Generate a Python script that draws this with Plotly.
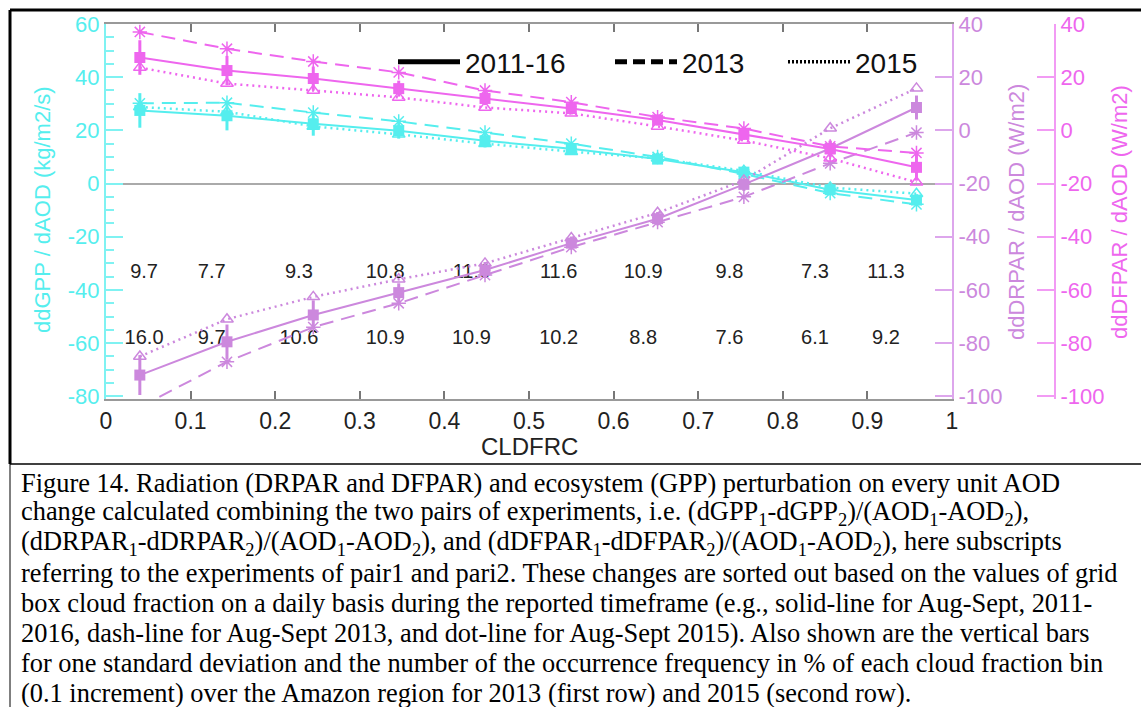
import plotly.graph_objects as go

W, H = 1141, 707


def px(x):
    return x / W


def py(y):
    return 1 - y / H


# ---------------- data ----------------
cldfrc = [0.04, 0.143, 0.245, 0.346, 0.448, 0.55, 0.652, 0.754, 0.856, 0.958]

gpp_all = [27.5, 25.5, 22.5, 19.9, 16.1, 13.1, 9.2, 4.3, -2.3, -6.2]
gpp_all_err = [6.5, 5.5, 4.5, 3.0, 2.5, 2.0, 1.8, 1.5, 1.8, 2.2]
gpp_2013 = [30.2, 30.4, 26.7, 23.4, 19.2, 15.0, 10.0, 3.6, -3.6, -7.8]
gpp_2015 = [28.8, 27.0, 21.5, 18.5, 15.0, 12.0, 9.5, 4.8, -1.5, -3.8]

drpar_all = [-92.0, -79.5, -69.4, -61.0, -52.5, -42.4, -33.2, -20.3, -6.8, 8.6]
drpar_all_err = [7.5, 6.5, 5.5, 3.5, 3.0, 2.5, 2.5, 2.5, 3.0, 4.5]
drpar_2013 = [-104.0, -87.0, -74.0, -65.0, -54.4, -43.9, -34.5, -25.0, -12.4, -0.8]
drpar_2015 = [-85.0, -71.0, -62.6, -56.0, -50.0, -40.5, -31.0, -18.8, 0.8, 15.8]

dfpar_all = [27.4, 22.5, 19.5, 15.7, 12.0, 8.2, 3.9, -1.5, -7.0, -13.9]
dfpar_all_err = [6.5, 5.5, 4.5, 3.0, 2.5, 2.2, 2.0, 2.0, 3.0, 5.0]
dfpar_2013 = [37.0, 30.7, 25.9, 21.8, 15.0, 10.6, 5.0, 0.7, -6.0, -8.5]
dfpar_2015 = [23.6, 17.6, 15.0, 12.4, 8.6, 6.4, 1.5, -3.8, -10.5, -19.5]

freq_label_x = [0.045, 0.125, 0.228, 0.33, 0.432, 0.535, 0.635, 0.737, 0.838, 0.922]
freq_2013 = ["9.7", "7.7", "9.3", "10.8", "11.6", "11.6", "10.9", "9.8", "7.3", "11.3"]
freq_2015 = ["16.0", "9.7", "10.6", "10.9", "10.9", "10.2", "8.8", "7.6", "6.1", "9.2"]

x_ticks = [0, 0.1, 0.2, 0.3, 0.4, 0.5, 0.6, 0.7, 0.8, 0.9, 1]
x_tick_text = ["0", "0.1", "0.2", "0.3", "0.4", "0.5", "0.6", "0.7", "0.8", "0.9", "1"]
gpp_ticks = [-80, -60, -40, -20, 0, 20, 40, 60]
gpp_tick_text = ["-80", "-60", "-40", "-20", "0", "20", "40", "60"]
par_ticks = [-100, -80, -60, -40, -20, 0, 20, 40]
par_tick_text = ["-100", "-80", "-60", "-40", "-20", "0", "20", "40"]
periods = ["2011-16", "2013", "2015"]

caption_lines = [
    "Figure 14. Radiation (DRPAR and DFPAR) and ecosystem (GPP) perturbation on every unit AOD",
    "change calculated combining the two pairs of experiments, i.e. (dGPP<sub>1</sub>-dGPP<sub>2</sub>)/(AOD<sub>1</sub>-AOD<sub>2</sub>),",
    "(dDRPAR<sub>1</sub>-dDRPAR<sub>2</sub>)/(AOD<sub>1</sub>-AOD<sub>2</sub>), and (dDFPAR<sub>1</sub>-dDFPAR<sub>2</sub>)/(AOD<sub>1</sub>-AOD<sub>2</sub>), here subscripts",
    "referring to the experiments of pair1 and pari2. These changes are sorted out based on the values of grid",
    "box cloud fraction on a daily basis during the reported timeframe (e.g., solid-line for Aug-Sept, 2011-",
    "2016, dash-line for Aug-Sept 2013, and dot-line for Aug-Sept 2015). Also shown are the vertical bars",
    "for one standard deviation and the number of the occurrence frequency in % of each cloud fraction bin",
    "(0.1 increment) over the Amazon region for 2013 (first row) and 2015 (second row).",
]

# ---------------- styles ----------------
C_GPP = "#55EEEE"
C_GPP_AX = "#7FF2F2"
C_DR = "#CC88DD"
C_DR_AX = "#DDA6EC"
C_DF = "#EE66EE"
C_DF_AX = "#F29BF4"
SANS = "Liberation Sans"
SERIF = "Liberation Serif"
DASH = "14px,8px"
DOT = "2px,4px"

fig = go.Figure()


def add_group(yvals, err, y13, y15, color, axis):
    fig.add_trace(go.Scatter(
        x=cldfrc, y=y13, yaxis=axis, mode="lines+markers", showlegend=False,
        line=dict(color=color, width=2, dash=DASH),
        marker=dict(symbol="asterisk-open", size=12, line=dict(color=color, width=1.5)),
    ))
    fig.add_trace(go.Scatter(
        x=cldfrc, y=y15, yaxis=axis, mode="lines+markers", showlegend=False,
        line=dict(color=color, width=2.5, dash=DOT),
        marker=dict(symbol="triangle-up-open", size=11, line=dict(color=color, width=1.5)),
    ))
    fig.add_trace(go.Scatter(
        x=cldfrc, y=yvals, yaxis=axis, mode="lines+markers", showlegend=False,
        line=dict(color=color, width=2),
        marker=dict(symbol="square", size=11, color=color),
        error_y=dict(type="data", array=err, visible=True, color=color, thickness=3, width=0),
    ))


add_group(gpp_all, gpp_all_err, gpp_2013, gpp_2015, C_GPP, "y")
add_group(drpar_all, drpar_all_err, drpar_2013, drpar_2015, C_DR, "y2")
add_group(dfpar_all, dfpar_all_err, dfpar_2013, dfpar_2015, C_DF, "y3")

# occurrence frequency rows
ROW1_Y, ROW2_Y = -33.5, -58.5
fig.add_trace(go.Scatter(
    x=freq_label_x, y=[ROW1_Y] * len(freq_2013), text=freq_2013, mode="text",
    textfont=dict(family=SANS, size=20, color="#222"), showlegend=False, yaxis="y",
))
fig.add_trace(go.Scatter(
    x=freq_label_x, y=[ROW2_Y] * len(freq_2015), text=freq_2015, mode="text",
    textfont=dict(family=SANS, size=20, color="#222"), showlegend=False, yaxis="y",
))

# legend entries (three separate legends)
legend_dashes = ["solid", "12px,6px", "2px,2px"]
legend_widths = [5, 5, 3.5]
legend_names = ["legend", "legend2", "legend3"]
for name, dash, lw, lg in zip(periods, legend_dashes, legend_widths, legend_names):
    fig.add_trace(go.Scatter(
        x=[None], y=[None], mode="lines", name=name, legend=lg,
        line=dict(color="black", width=lw, dash=dash),
    ))

legend_common = dict(
    yanchor="middle", xanchor="left", itemwidth=62, bgcolor="rgba(0,0,0,0)",
    borderwidth=0, font=dict(family=SANS, size=28, color="#111"),
)

x_dom = [px(106), px(952)]
y_dom = [py(399), py(24)]

fig.update_layout(
    width=W, height=H, margin=dict(l=0, r=0, t=0, b=0, autoexpand=False),
    paper_bgcolor="white", plot_bgcolor="white",
    legend=dict(x=px(393), y=py(62), **legend_common),
    legend2=dict(x=px(610), y=py(62), **legend_common),
    legend3=dict(x=px(783), y=py(62), **legend_common),
    xaxis=dict(
        domain=x_dom, range=[0, 1], tickvals=x_ticks, ticktext=x_tick_text,
        ticks="inside", ticklen=8, tickwidth=1.5, tickcolor="#777",
        showline=True, linecolor="#999", linewidth=2, mirror="ticks",
        showgrid=False, zeroline=False,
        tickfont=dict(family=SANS, size=23, color="#222"),
    ),
    yaxis=dict(
        domain=y_dom, range=[-81, 60], tickvals=gpp_ticks, ticktext=gpp_tick_text,
        ticks="inside", ticklen=17, tickwidth=1.5, tickcolor=C_GPP_AX,
        minor=dict(ticks="inside", ticklen=8, dtick=5, tickcolor=C_GPP_AX, tickwidth=1.5),
        showline=True, linecolor=C_GPP_AX, linewidth=2,
        showgrid=False, zeroline=True, zerolinecolor="#AAAAAA", zerolinewidth=2,
        tickfont=dict(family=SANS, size=22, color=C_GPP),
    ),
    yaxis2=dict(
        overlaying="y", side="right", anchor="x", range=[-101, 40],
        tickvals=par_ticks, ticktext=par_tick_text,
        ticks="inside", ticklen=17, tickwidth=1.5, tickcolor=C_DR_AX,
        showline=True, linecolor=C_DR_AX, linewidth=2,
        showgrid=False, zeroline=False,
        tickfont=dict(family=SANS, size=22, color=C_DR),
    ),
    yaxis3=dict(
        overlaying="y", side="right", anchor="free", position=px(1055), range=[-101, 40],
        tickvals=par_ticks, ticktext=par_tick_text,
        ticks="inside", ticklen=17, tickwidth=1.5, tickcolor=C_DF_AX,
        showline=True, linecolor=C_DF_AX, linewidth=2,
        showgrid=False, zeroline=False,
        tickfont=dict(family=SANS, size=22, color=C_DF),
    ),
)

annotations = [
    dict(text="CLDFRC", x=px(529), y=py(447), font=dict(family=SANS, size=24, color="#222")),
    dict(text="ddGPP / dAOD (kg/m2/s)", x=px(42), y=py(210), textangle=-90,
         font=dict(family=SANS, size=22, color=C_GPP)),
    dict(text="ddDRPAR / dAOD (W/m2)", x=px(1017), y=py(212), textangle=-90,
         font=dict(family=SANS, size=22, color=C_DR)),
    dict(text="ddDFPAR / dAOD (W/m2)", x=px(1120), y=py(212), textangle=-90,
         font=dict(family=SANS, size=22, color=C_DF)),
]
for a in annotations:
    a.update(xref="paper", yref="paper", showarrow=False, xanchor="center", yanchor="middle")

CAP_Y0, CAP_DY = 483, 30
for i, line in enumerate(caption_lines):
    annotations.append(dict(
        text=line, x=px(19), y=py(CAP_Y0 + i * CAP_DY), xref="paper", yref="paper",
        xanchor="left", yanchor="middle", showarrow=False, align="left",
        font=dict(family=SERIF, size=26.4, color="black"),
    ))
fig.update_layout(annotations=annotations)

shapes = [
    dict(type="line", x0=px(10), x1=px(1141), y0=py(10), y1=py(10), line=dict(color="black", width=3)),
    dict(type="line", x0=px(10), x1=px(10), y0=py(10), y1=py(464), line=dict(color="black", width=3)),
    dict(type="line", x0=px(10), x1=px(1141), y0=py(464), y1=py(464), line=dict(color="black", width=1.5)),
    dict(type="line", x0=px(10), x1=px(10), y0=py(464), y1=py(707), line=dict(color="black", width=1)),
]
for s in shapes:
    s.update(xref="paper", yref="paper")
fig.update_layout(shapes=shapes)

fig.write_html("out.html")
